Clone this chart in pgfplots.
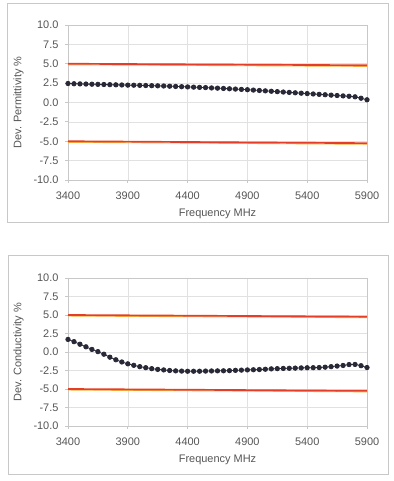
\documentclass[border=0pt]{standalone}
\usepackage{pgfplots}
\pgfplotsset{compat=1.18}
\usepackage{pgfplotstable}
\usepackage{fontspec}
\setmainfont{Liberation Sans}
\definecolor{txt}{RGB}{85,85,85}
\definecolor{frm}{RGB}{200,200,200}
\definecolor{grd}{RGB}{225,225,225}
\definecolor{redl}{RGB}{228,62,40}
\definecolor{yell}{RGB}{250,175,60}
\definecolor{dots}{RGB}{40,40,55}

\pgfplotstableread{
f v
3400 2.45
3450 2.42
3500 2.40
3550 2.38
3600 2.36
3650 2.34
3700 2.32
3750 2.30
3800 2.28
3850 2.26
3900 2.24
3950 2.23
4000 2.21
4050 2.19
4100 2.17
4150 2.15
4200 2.13
4250 2.10
4300 2.07
4350 2.04
4400 2.01
4450 1.98
4500 1.95
4550 1.92
4600 1.88
4650 1.85
4700 1.81
4750 1.77
4800 1.73
4850 1.69
4900 1.65
4950 1.60
5000 1.55
5050 1.50
5100 1.45
5150 1.40
5200 1.35
5250 1.30
5300 1.25
5350 1.20
5400 1.15
5450 1.10
5500 1.05
5550 1.00
5600 0.95
5650 0.90
5700 0.85
5750 0.80
5800 0.73
5850 0.55
5900 0.35
}\perm

\pgfplotstableread{
f v
3400 1.70
3450 1.40
3500 1.05
3550 0.70
3600 0.35
3650 0.05
3700 -0.30
3750 -0.70
3800 -1.05
3850 -1.35
3900 -1.60
3950 -1.80
4000 -1.98
4050 -2.12
4100 -2.25
4150 -2.35
4200 -2.42
4250 -2.50
4300 -2.55
4350 -2.58
4400 -2.60
4450 -2.60
4500 -2.60
4550 -2.58
4600 -2.56
4650 -2.55
4700 -2.54
4750 -2.52
4800 -2.48
4850 -2.45
4900 -2.42
4950 -2.40
5000 -2.37
5050 -2.33
5100 -2.28
5150 -2.25
5200 -2.22
5250 -2.20
5300 -2.18
5350 -2.15
5400 -2.13
5450 -2.12
5500 -2.10
5550 -2.05
5600 -1.98
5650 -1.90
5700 -1.82
5750 -1.70
5800 -1.68
5850 -1.85
5900 -2.10
}\cond

\pgfplotsset{
  dev/.style={
    scale only axis,
    width=299bp,
    xmin=3400, xmax=5900,
    ymin=-10, ymax=10,
    xtick={3400,3900,4400,4900,5400,5900},
    ytick={-10,-7.5,-5,-2.5,0,2.5,5,7.5,10},
    tick label style={font=\fontsize{11}{13}\selectfont, text=txt},
    yticklabel style={xshift=-3bp, /pgf/number format/.cd,fixed,fixed zerofill,precision=1,assume math mode=true},
    xticklabel style={yshift=-5bp, /pgf/number format/.cd,set thousands separator={},assume math mode=true},
    label style={font=\fontsize{11}{13}\selectfont, text=txt},
    grid=major,
    major grid style={grd, line width=0.6pt},
    axis line style={frm, line width=0.8pt},
    tick style={frm, line width=0.8pt},
    tick align=outside,
    major tick length=3bp,
    xtick pos=bottom, ytick pos=left,
    xlabel={Frequency MHz},
    xlabel style={yshift=-3bp},
    ylabel style={yshift=3bp},
    clip=false,
  },
  limy/.style={line width=0.9pt, no marks, yell},
  limr/.style={line width=1.7pt, no marks, redl},
  dat/.style={dots, line width=0.8pt, mark=*, mark size=2.2bp, mark options={fill=dots, draw=dots}},
}

\begin{document}
\begin{tikzpicture}[x=1bp,y=1bp]
\path (0,0) rectangle (393,481);
\draw[frm, line width=0.8pt] (7,259) rectangle (388,478);
\draw[frm, line width=0.8pt] (8,7) rectangle (388,226);

\begin{axis}[dev, at={(68bp,301bp)}, anchor=south west, height=155bp,
  ylabel={Dev. Permittivity \%}]
\addplot[limy] coordinates {(3400,4.86) (5900,4.66)};
\addplot[limr] coordinates {(3400,5.0) (5900,4.8)};
\addplot[limy] coordinates {(3400,-5.14) (5900,-5.39)};
\addplot[limr] coordinates {(3400,-5.0) (5900,-5.25)};
\addplot[dat] table[x=f,y=v] {\perm};
\end{axis}

\begin{axis}[dev, at={(68bp,55bp)}, anchor=south west, height=148bp,
  ylabel={Dev. Conductivity \%}]
\addplot[limy] coordinates {(3400,4.86) (5900,4.63)};
\addplot[limr] coordinates {(3400,5.0) (5900,4.77)};
\addplot[limy] coordinates {(3400,-5.14) (5900,-5.39)};
\addplot[limr] coordinates {(3400,-5.0) (5900,-5.25)};
\addplot[dat] table[x=f,y=v] {\cond};
\end{axis}
\end{tikzpicture}
\end{document}
